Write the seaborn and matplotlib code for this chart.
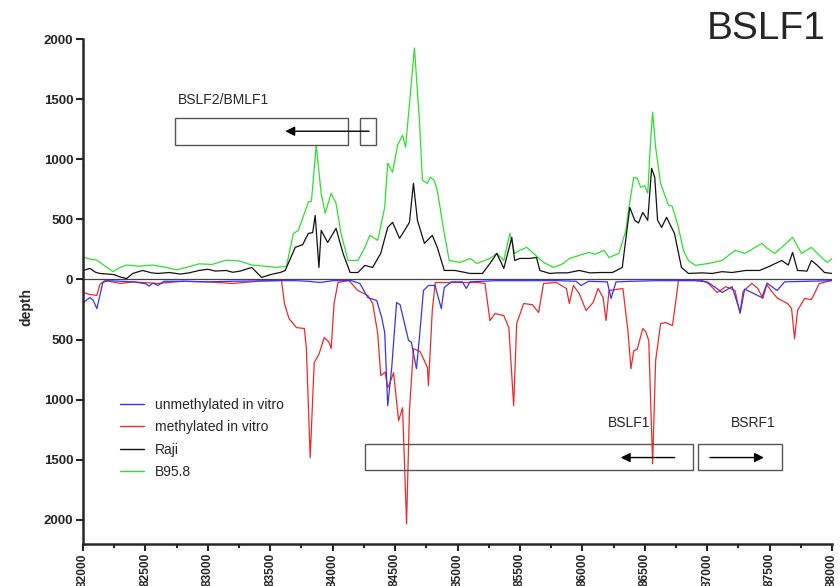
import matplotlib
matplotlib.use("Agg")
import matplotlib.pyplot as plt
import seaborn as sns
from matplotlib.patches import Rectangle
from matplotlib.lines import Line2D
from matplotlib.ticker import MultipleLocator, FuncFormatter

# ---------------- data ----------------
b958_pos = [82000, 82056, 82111, 82159, 82239, 82294, 82350, 82453, 82556, 82668, 82747, 82827,
            82930, 83034, 83145, 83248, 83352, 83463, 83542, 83630, 83685, 83725, 83805, 83830,
            83868, 83908, 83940, 83988, 84027, 84067, 84123, 84202, 84258, 84298, 84361, 84417,
            84441, 84480, 84520, 84560, 84584, 84655, 84695, 84719, 84759, 84783, 84814, 84838,
            84894, 84934, 85021, 85101, 85156, 85260, 85315, 85371, 85419, 85458, 85498, 85554,
            85609, 85689, 85768, 85848, 85896, 85975, 86054, 86100, 86174, 86214, 86293, 86349,
            86373, 86412, 86440, 86468, 86500, 86524, 86547, 86563, 86587, 86627, 86667, 86690,
            86720, 86770, 86810, 86850, 86905, 87009, 87120, 87223, 87303, 87438, 87480, 87541,
            87597, 87684, 87756, 87835, 87915, 87963, 88000]
b958_val = [186, 170, 160, 125, 65, 100, 120, 110, 120, 100, 80, 100,
            130, 125, 160, 155, 120, 110, 100, 110, 383, 408, 642, 650,
            1117, 717, 550, 717, 633, 383, 158, 158, 267, 367, 325, 600,
            967, 892, 1117, 1200, 1100, 1925, 1325, 825, 800, 850, 825, 742,
            383, 158, 142, 175, 133, 175, 217, 158, 383, 217, 242, 267,
            217, 142, 100, 133, 175, 200, 225, 210, 242, 183, 217, 408,
            600, 850, 840, 767, 780, 717, 1158, 1392, 1100, 800, 683, 617,
            610, 433, 242, 158, 117, 133, 158, 242, 217, 300, 260, 217,
            267, 350, 217, 267, 183, 142, 175]

raji_pos = [82000, 82056, 82100, 82135, 82200, 82250, 82300, 82350, 82398, 82477, 82550, 82600,
            82692, 82780, 82850, 82930, 83000, 83060, 83145, 83200, 83260, 83352, 83431, 83500,
            83542, 83580, 83620, 83700, 83760, 83805, 83840, 83860, 83890, 83908, 83960, 84027,
            84083, 84140, 84202, 84258, 84320, 84385, 84441, 84480, 84536, 84576, 84615, 84647,
            84679, 84735, 84798, 84838, 84894, 84980, 85101, 85200, 85260, 85315, 85371, 85435,
            85458, 85500, 85578, 85633, 85660, 85740, 85800, 85880, 85975, 86060, 86150, 86241,
            86320, 86357, 86380, 86420, 86450, 86484, 86524, 86555, 86580, 86603, 86635, 86675,
            86698, 86738, 86794, 86850, 86960, 87040, 87120, 87200, 87310, 87420, 87500, 87597,
            87650, 87684, 87724, 87800, 87835, 87883, 87940, 88000]
raji_val = [75, 92, 60, 50, 45, 40, 20, 8, 50, 75, 55, 50,
            58, 45, 55, 75, 85, 70, 75, 60, 70, 100, 17, 40,
            50, 58, 75, 267, 290, 383, 390, 533, 100, 408, 308, 425,
            217, 58, 58, 117, 100, 217, 433, 475, 342, 408, 475, 800,
            492, 300, 367, 267, 75, 75, 50, 50, 133, 217, 92, 350,
            158, 175, 175, 183, 75, 50, 55, 55, 75, 55, 58, 58,
            100, 408, 600, 492, 470, 558, 492, 925, 850, 492, 433, 517,
            467, 383, 100, 50, 55, 50, 65, 58, 75, 75, 110, 158,
            120, 225, 75, 70, 158, 117, 58, 50]

unmeth_pos = [82000, 82056, 82080, 82111, 82159, 82200, 82300, 82400, 82500, 82530, 82560, 82600,
              82650, 82800, 83000, 83200, 83500, 83700, 83800, 83900, 84000, 84150, 84218, 84281,
              84353, 84393, 84417, 84441, 84473, 84512, 84540, 84608, 84630, 84671, 84695, 84727,
              84767, 84820, 84870, 84894, 84950, 85040, 85070, 85100, 85300, 85500, 85800, 85950,
              85990, 86050, 86200, 86230, 86270, 86400, 86600, 86900, 87000, 87070, 87120, 87200,
              87265, 87300, 87438, 87480, 87560, 87620, 87800, 88000]
unmeth_val = [-192, -150, -170, -242, -25, -10, -15, -20, -35, -55, -30, -50,
              -15, -15, -20, -15, -10, -10, -15, -25, -10, -10, -33, -150,
              -175, -317, -442, -1050, -733, -192, -210, -508, -520, -742, -483, -92,
              -50, -50, -242, -67, -20, -20, -75, -20, -10, -10, -10, -15,
              -50, -15, -20, -158, -20, -15, -10, -10, -20, -70, -108, -60,
              -275, -80, -150, -30, -92, -20, -15, -10]

meth_pos = [82000, 82056, 82111, 82135, 82175, 82300, 82400, 82600, 82800, 83000, 83200, 83400,
            83590, 83614, 83650, 83710, 83773, 83789, 83820, 83852, 83892, 83932, 83970, 83988,
            84011, 84043, 84130, 84202, 84281, 84321, 84361, 84385, 84420, 84441, 84465, 84488,
            84528, 84560, 84592, 84615, 84647, 84700, 84727, 84759, 84767, 84798, 84822, 85000,
            85156, 85220, 85260, 85300, 85371, 85411, 85450, 85474, 85530, 85600, 85650, 85689,
            85792, 85872, 85896, 85928, 85975, 86030, 86086, 86126, 86166, 86190, 86214, 86325,
            86365, 86389, 86412, 86440, 86484, 86508, 86532, 86563, 86587, 86627, 86667, 86722,
            86746, 86770, 86960, 87009, 87080, 87150, 87223, 87263, 87287, 87358, 87406, 87446,
            87478, 87517, 87565, 87645, 87676, 87700, 87724, 87780, 87835, 87899, 88000]
meth_val = [-108, -125, -133, -42, -8, -33, -20, -33, -15, -20, -33, -15,
            -8, -200, -325, -400, -408, -567, -1483, -692, -617, -483, -520, -575,
            -200, -25, -8, -92, -133, -200, -450, -800, -770, -900, -842, -775,
            -1175, -1067, -2033, -1092, -575, -600, -658, -733, -883, -258, -25, -25,
            -25, -33, -342, -283, -300, -400, -1050, -367, -200, -210, -275, -33,
            -25, -75, -200, -50, -117, -258, -192, -75, -150, -342, -92, -75,
            -425, -742, -592, -580, -408, -433, -508, -1533, -675, -367, -358, -383,
            -200, -8, -8, -33, -108, -60, -92, -283, -100, -33, -75, -158,
            -42, -100, -158, -200, -242, -492, -258, -158, -167, -33, -8]

series_names = ["unmethylated in vitro", "methylated in vitro", "Raji", "B95.8"]
series_colors = ["#3535ee", "#ee2a2a", "#111111", "#2ee02e"]

# gene annotations: (start, end, bottom, top)
gene_boxes = [(82740, 84120, 1117, 1342), (84218, 84345, 1117, 1342),
              (84258, 86890, -1583, -1367), (86928, 87596, -1583, -1367)]
gene_arrows = [(84313, 83598, 1233), (86762, 86285, -1481), (87000, 87477, -1481)]
gene_labels = [("BSLF2/BMLF1", 82760, 1492), ("BSLF1", 86205, -1192), ("BSRF1", 87191, -1192)]

# ---------------- plot ----------------
sns.set_style("ticks")
plt.rcParams['font.family'] = ['Liberation Sans', 'DejaVu Sans']

fig = plt.figure(figsize=(8.4, 5.86), dpi=100)
ax = fig.add_axes([83 / 840, 1 - 544 / 586, 749 / 840, 505 / 586])

lw = 0.9
sns.lineplot(x=b958_pos, y=b958_val, color=series_colors[3], lw=lw, ax=ax, estimator=None)
sns.lineplot(x=raji_pos, y=raji_val, color=series_colors[2], lw=lw, ax=ax, estimator=None)
sns.lineplot(x=meth_pos, y=meth_val, color=series_colors[1], lw=lw, ax=ax, estimator=None)
sns.lineplot(x=unmeth_pos, y=unmeth_val, color=series_colors[0], lw=lw, ax=ax, estimator=None)
ax.axhline(0, color="#444444", lw=0.9, zorder=1)

ax.set_xlim(82000, 88000)
ax.set_ylim(-2200, 2000)
ax.xaxis.set_major_locator(MultipleLocator(500))
ax.xaxis.set_minor_locator(MultipleLocator(250))
ax.yaxis.set_major_locator(MultipleLocator(500))
ax.yaxis.set_major_formatter(FuncFormatter(lambda v, p: f"{abs(int(round(v)))}"))
ax.tick_params(axis="both", which="major", length=5, width=1.5, labelsize=9.5, pad=2)
ax.tick_params(axis="x", which="major", labelsize=8.6, pad=1.5)
ax.tick_params(axis="x", which="minor", length=3, width=1.5)
for lab in ax.get_xticklabels():
    lab.set_rotation(90)
    lab.set_fontweight("bold")
for lab in ax.get_yticklabels():
    lab.set_fontweight("bold")
sns.despine(ax=ax)
for s in ["left", "bottom"]:
    ax.spines[s].set_linewidth(1.8)

ax.set_xlabel("")
ax.set_ylabel("depth", fontsize=10, fontweight="bold")
ax.yaxis.set_label_coords(-0.066, 0.47)

for x0, x1, y0, y1 in gene_boxes:
    ax.add_patch(Rectangle((x0, y0), x1 - x0, y1 - y0, fill=False, ec="#555555", lw=1.0, zorder=3))
for xs, xe, y in gene_arrows:
    ax.annotate("", xy=(xe, y), xytext=(xs, y),
                arrowprops=dict(arrowstyle="-|>", color="black", lw=1.0, mutation_scale=14))
for txt, x, y in gene_labels:
    ax.text(x, y, txt, fontsize=10, ha="left", va="center")

handles = [Line2D([], [], color=c, lw=1.0) for c in series_colors]
fig.legend(handles, series_names, loc="upper left", bbox_to_anchor=(120 / 840, 1 - 398 / 586),
           frameon=False, fontsize=10, handlelength=1.7, handletextpad=0.8,
           labelspacing=0.6, borderpad=0, borderaxespad=0)

fig.text(707 / 840, 1 - 29 / 586, "BSLF1", fontsize=28, ha="left", va="center")

fig.savefig("out.png", dpi=100)
